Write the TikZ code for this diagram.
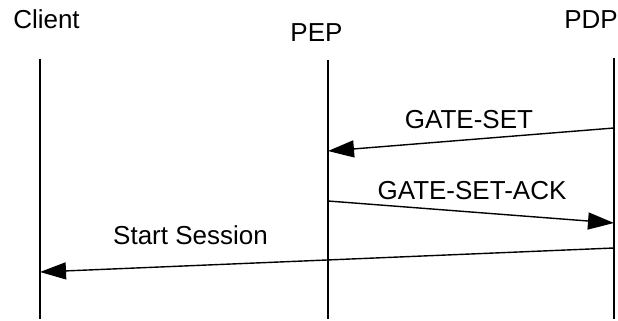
\documentclass[tikz,border=0pt]{standalone}
\usepackage{fontspec}
\setmainfont{Liberation Sans}
\usepackage{tikz}
\usetikzlibrary{arrows.meta}
\tikzset{
  life/.style={draw=black, line width=0.7pt},
  msg/.style={draw=black, line width=0.7pt, -{Triangle[length=13pt,width=8.5pt]}},
  lab/.style={text=black, font=\fontsize{13}{15}\selectfont, inner sep=0pt, anchor=base},
}

\begin{document}
\begin{tikzpicture}[x=0.5pt,y=-0.5pt]
  \useasboundingbox (0,0) rectangle (618,321);
  \coordinate (CT) at (40,59);
  \coordinate (CB) at (40,319);
  \coordinate (ET) at (328,60);
  \coordinate (EB) at (328,319);
  \coordinate (DT) at (614,58);
  \coordinate (DB) at (614,319);
  \node[lab] (client) at (46.5,29) {Client};
  \node[lab] (pep) at (316.5,41) {PEP};
  \node[lab] (pdp) at (591,29) {PDP};
  \draw[life] (CT)--(CB);
  \draw[life] (ET)--(EB);
  \draw[life] (DT)--(DB);
  \coordinate (S1) at (614,128);
  \coordinate (S2) at (328,151);
  \coordinate (A1) at (328,201);
  \coordinate (A2) at (614,223);
  \coordinate (R1) at (614,248);
  \coordinate (R2) at (40,272);
  \draw[msg] (S1)--(S2);
  \draw[msg] (A1)--(A2);
  \draw[msg] (R1)--(R2);
  \node[lab] (set) at (469,128) {GATE-SET};
  \node[lab] (ack) at (472,199) {GATE-SET-ACK};
  \node[lab] (start) at (190.5,245) {Start Session};
\end{tikzpicture}
\end{document}
